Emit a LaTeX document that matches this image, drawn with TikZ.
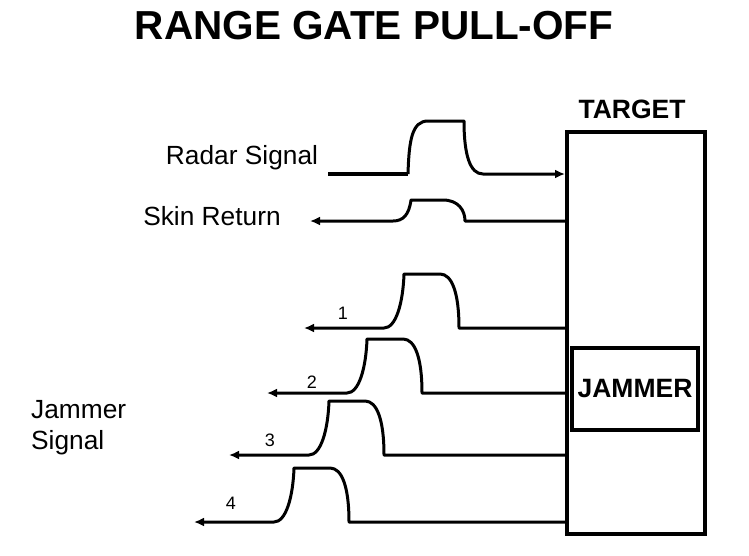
\documentclass[tikz,border=0pt]{standalone}
\usepackage{fontspec}
\setmainfont{Liberation Sans}
\usetikzlibrary{arrows.meta,positioning}

\tikzset{
  wire/.style={line width=3pt,line join=round},
  tip/.style={-{Latex[length=10pt,width=9pt]}},
  boxed/.style={draw,line width=4pt,inner sep=0pt},
  bigbold/.style={font=\fontsize{26.5}{30}\selectfont\bfseries},
  lbl/.style={font=\fontsize{26.3}{31.5}\selectfont},
  num/.style={font=\fontsize{18}{20}\selectfont}
}

\begin{document}
\begin{tikzpicture}[x=1pt,y=-1pt]
  \useasboundingbox (0,0) rectangle (749,555);
  % title and boxes
  \node[font=\fontsize{40.5}{44}\selectfont\bfseries,anchor=base] (title) at (374,39) {RANGE GATE PULL-OFF};
  \node[boxed,minimum width=138pt,minimum height=402pt] (target) at (636,333) {};
  \node[bigbold,anchor=base] (targetlbl) at (632,118) {TARGET};
  \node[boxed,bigbold,minimum width=126pt,minimum height=82pt] (jammer) at (635,389) {JAMMER};
  % labels
  \node[lbl,anchor=base] (radarlbl) at (242,164) {Radar Signal};
  \node[lbl,anchor=base] (skinlbl) at (212,225) {Skin Return};
  \node[lbl,align=left,anchor=north west,inner sep=0pt] (jamlbl) at (31,400) {Jammer\\Signal};
  % radar signal
  \draw[line width=4pt] (328,174) -- (408,174);
  \draw[wire,tip] (408,174) .. controls (409,140) and (412,121) .. (428,121) -- (464,121)
    .. controls (464,155) and (470,174) .. (483,174) -- (target.west |- 0,174);
  % skin return
  \draw[wire,tip] (target.west |- 0,221) -- (465,221) .. controls (465,210) and (458,200) .. (443,200)
    -- (411,200) .. controls (409,215) and (403,221) .. (393,221) -- (310,221);
  % jammer pulses
  \foreach \n/\xr/\yb/\lx/\ly in {1/384/328/343/313,2/347/393/312/382,3/309/455/270/440,4/274/522/231/503}{
    \draw[wire,tip] (target.west |- 0,\yb) -- (\xr+75,\yb)
      .. controls (\xr+75,\yb-35) and (\xr+68,\yb-54) .. (\xr+56,\yb-54) -- (\xr+20,\yb-54)
      .. controls (\xr+19,\yb-25) and (\xr+12,\yb) .. (\xr,\yb) -- (\xr-80,\yb);
    \node[num] (n\n) at (\lx,\ly) {\n};
  }
\end{tikzpicture}
\end{document}
